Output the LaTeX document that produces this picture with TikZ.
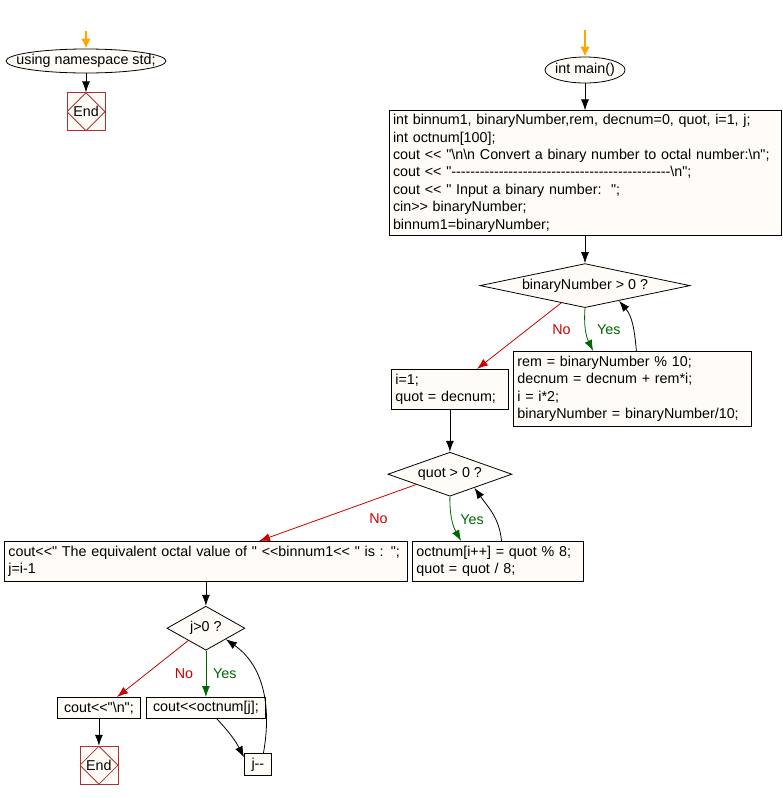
\documentclass[tikz,border=0pt]{standalone}
\usepackage{fontspec}
\newfontfamily\chartfont{Liberation Sans}
\usepackage{tikz}
\usetikzlibrary{arrows.meta,positioning,shapes.geometric}
\definecolor{boxfill}{HTML}{FFFCF7}
\definecolor{noline}{HTML}{CC0000}
\definecolor{yesline}{HTML}{006600}
\definecolor{endline}{HTML}{A83232}
\definecolor{startline}{HTML}{FFA500}

\begin{document}
\begin{tikzpicture}[x=1pt,y=1pt,font=\chartfont\fontsize{14.3}{17.5}\selectfont, box/.style={draw,fill=boxfill,line width=0.8pt,align=left,inner xsep=4pt,inner ysep=3pt}, term/.style={ellipse,draw,fill=boxfill,line width=0.8pt,inner ysep=0pt}, cond/.style={diamond,draw,fill=boxfill,line width=0.8pt,inner sep=0pt,minimum height=44pt}, stopbox/.style={draw=endline,fill=boxfill,line width=0.8pt,minimum size=38pt,inner sep=0pt,path picture={\draw[endline,line width=0.8pt] (path picture bounding box.north)--(path picture bounding box.east)--(path picture bounding box.south)--(path picture bounding box.west)--cycle;}}, arr/.style={-{Latex[length=11pt,width=8pt]},line width=0.8pt}, noarr/.style={arr,noline}, yesarr/.style={arr,yesline}, startarr/.style={-{Latex[length=10pt,width=10pt]},line width=2.5pt,startline}]
\useasboundingbox (0,0) rectangle (782,-798);
\node[term,inner xsep=-14pt,minimum width=160pt,minimum height=24pt] (nsterm) at (86,-61) {using namespace std;};
\node[stopbox,below=19pt of nsterm] (nsend) {End};
\node[term,inner xsep=-3pt,minimum width=80pt,minimum height=26pt] (mainterm) at (585,-70) {int main()};
\node[box,text width=384pt,minimum height=125pt,below=27pt of mainterm] (init) {int binnum1, binaryNumber,rem, decnum=0, quot, i=1, j;\\int octnum[100];\\cout << "\textbackslash n\textbackslash n Convert a binary number to octal number:\textbackslash n";\\cout << "----------------------------------------------\textbackslash n";\\cout << " Input a binary number:\ \ ";\\cin>> binaryNumber;\\binnum1=binaryNumber;};
\node[cond,aspect=4.77,minimum width=210pt,below=27pt of init] (loopbin) {binaryNumber > 0 ?};
\node[box,text width=230pt,minimum height=75pt,anchor=north west] (binstep) at (513,-351) {rem = binaryNumber \% 10;\\decnum = decnum + rem*i;\\i = i*2;\\binaryNumber = binaryNumber/10;};
\node[box,text width=109pt,minimum height=40pt,anchor=north west] (setquot) at (391,-369) {i=1;\\quot = decnum;};
\node[cond,aspect=2.82,minimum width=124pt,below=42pt of setquot] (loopquot) {quot > 0 ?};
\node[box,text width=395pt,minimum height=40pt,anchor=north west] (outhead) at (4,-541) {cout<<" The equivalent octal value of " <<binnum1<< " is : ";\\j=i-1};
\node[box,text width=163pt,minimum height=40pt,anchor=north west] (octstep) at (412,-541) {octnum[i++] = quot \% 8;\\quot = quot / 8;};
\node[cond,aspect=1.77,minimum width=78pt,below=24pt of outhead] (loopj) {j>0 ?};
\node[box,minimum width=83pt,minimum height=21pt,anchor=north west] (outnl) at (57,-697) {cout<<"\textbackslash n";};
\node[box,minimum width=119pt,minimum height=21pt,anchor=north west] (outdigit) at (146,-697) {cout<<octnum[j];};
\node[box,minimum width=27pt,minimum height=22pt,inner xsep=2pt,anchor=north west] (jdec) at (244,-753) {j-{}-};
\node[stopbox,below=27pt of outnl] (mainend) {End};
\coordinate[above=18pt of nsterm] (nsentry);
\coordinate[above=27pt of mainterm] (mainentry);
\draw[startarr] (nsentry)--(nsterm);
\draw[startarr] (mainentry)--(mainterm);
\draw[arr] (nsterm)--(nsend);
\draw[arr] (mainterm)--(init);
\draw[arr] (init)--(loopbin);
\draw[yesarr] (loopbin.south) to[bend right=15] node[pos=0.5,xshift=23pt] (yesbin) {Yes} (binstep.136);
\draw[arr] (binstep.84) to[out=95,in=-50] (loopbin.-24);
\draw[noarr] (loopbin.216)--node[pos=0.4,xshift=34pt] (nobin) {No} (setquot.37);
\draw[arr] (setquot)--(loopquot);
\draw[yesarr] (loopquot.south) to[bend right=15] node[pos=0.5,xshift=20pt] (yesquot) {Yes} (octstep.151);
\draw[arr] (octstep.80) to[out=95,in=-55] (loopquot.-29);
\draw[noarr] (loopquot.197)--node[pos=0.24,yshift=-21pt] (noquot) {No} (outhead.21);
\draw[arr] (outhead)--(loopj);
\draw[noarr] (loopj.215)--node[pos=0.58,xshift=37pt] (noj) {No} (outnl.31);
\draw[yesarr] (loopj)--node[pos=0.5,xshift=19pt] (yesj) {Yes} (outdigit);
\draw[arr] (outdigit.-45) to[bend left=8] (jdec.153);
\draw[arr] (jdec.64) to[out=80,in=-35] (loopj.-29);
\draw[arr] (outnl)--(mainend);
\end{tikzpicture}
\end{document}
